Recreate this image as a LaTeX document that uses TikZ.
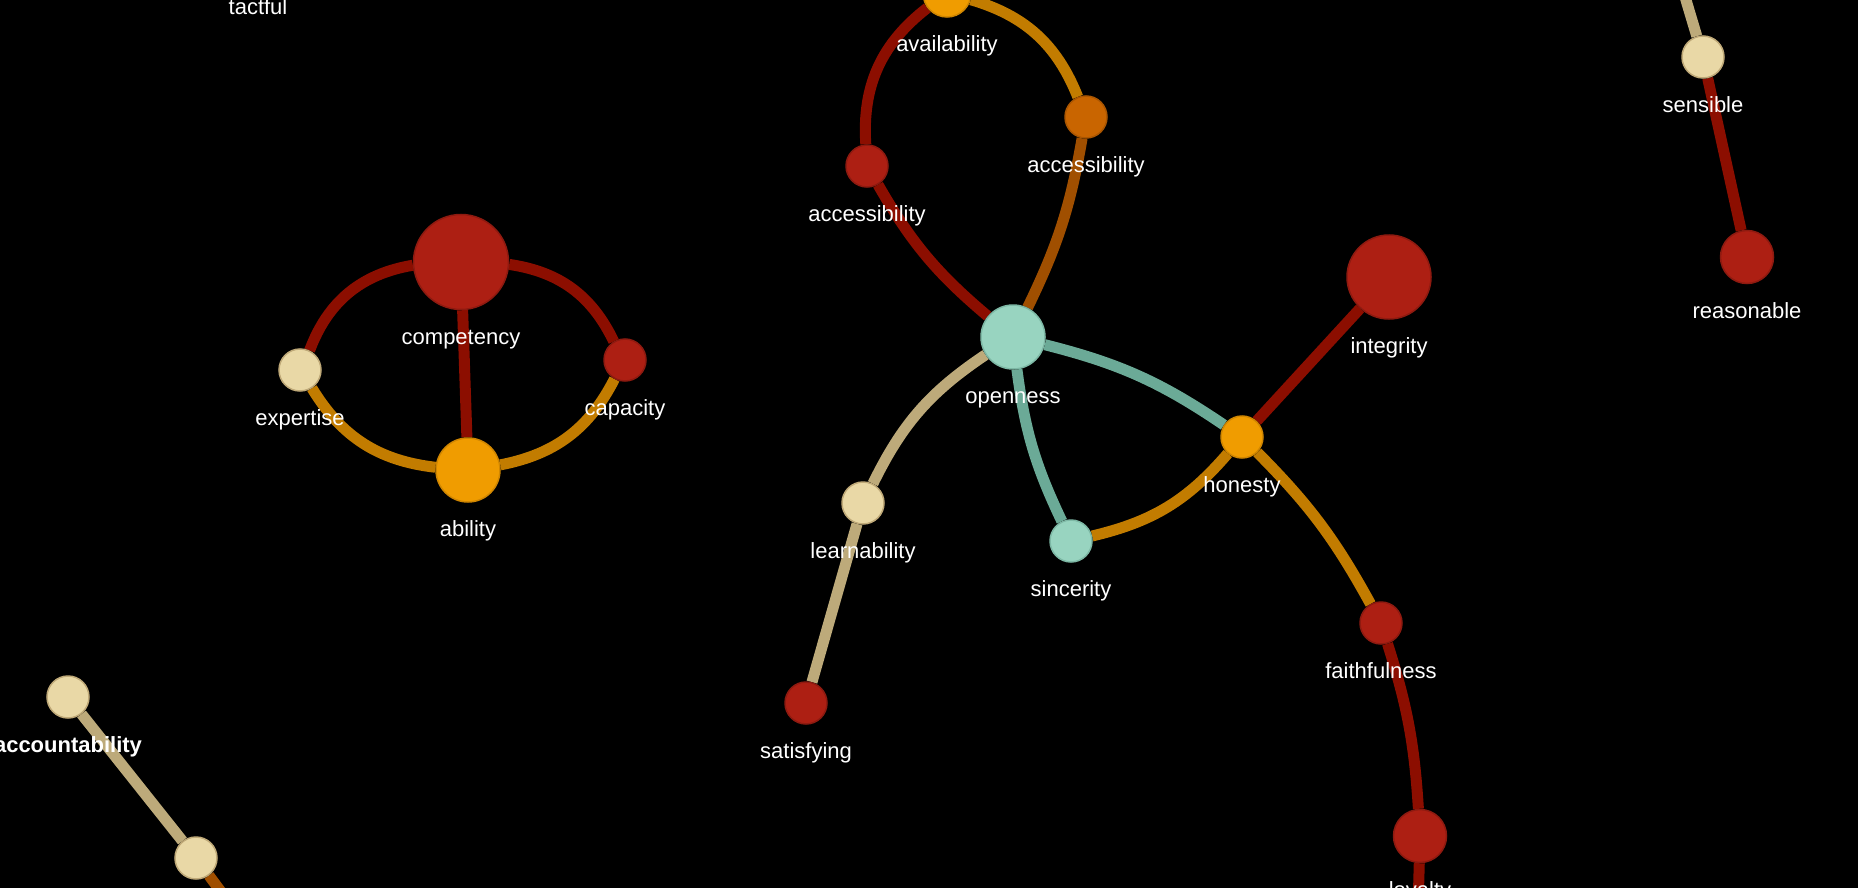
\documentclass[tikz,border=0pt]{standalone}
\usepackage{fontspec}
\setmainfont{Liberation Sans}
\usetikzlibrary{positioning}

\definecolor{nodered}{HTML}{AD1F13}
\definecolor{noderedline}{HTML}{8E1A10}
\definecolor{nodeorange}{HTML}{F09C00}
\definecolor{nodeorangeline}{HTML}{D08600}
\definecolor{nodeamber}{HTML}{C96500}
\definecolor{nodeteal}{HTML}{98D4C0}
\definecolor{nodetealline}{HTML}{7DB8A5}
\definecolor{nodecream}{HTML}{E9D8A6}
\definecolor{nodecreamline}{HTML}{BFA978}
\definecolor{linkred}{HTML}{8C0E00}
\definecolor{linkorange}{HTML}{C27C00}
\definecolor{linkbrown}{HTML}{A04F00}
\definecolor{linkteal}{HTML}{6BAA97}
\definecolor{linktan}{HTML}{BDAA7A}

\pgfdeclarelayer{back}
\pgfdeclarelayer{links}
\pgfsetlayers{back,links,main}

\begin{document}
\begin{tikzpicture}[x=1pt, y=-1pt,
  label distance=18pt,
  lbl/.style={text=white, inner sep=0pt, text height=16pt, text depth=5pt,
    font=\fontsize{22}{26}\selectfont},
  vertex/.style={circle, inner sep=0pt, line width=1.5pt},
  rednode/.style={vertex, fill=nodered, draw=noderedline, minimum size=#1},
  rednode/.default=42pt,
  orangenode/.style={vertex, fill=nodeorange, draw=nodeorangeline, minimum size=#1},
  orangenode/.default=42pt,
  ambernode/.style={vertex, fill=nodeamber, draw=nodeamber!85!black, minimum size=42pt},
  tealnode/.style={vertex, fill=nodeteal, draw=nodetealline, minimum size=#1},
  tealnode/.default=42pt,
  creamnode/.style={vertex, fill=nodecream, draw=nodecreamline, minimum size=42pt},
  link/.style={line width=11pt}]
  \useasboundingbox (0,0) rectangle (1858,888);
  \clip (0,0) rectangle (1858,888);
  \begin{pgfonlayer}{back}
    \fill[black] (0,0) rectangle (1858,888);
  \end{pgfonlayer}

  % left group
  \node[rednode=95pt, label={[lbl]below:competency}] (competency) at (461,262) {};
  \node[creamnode, label={[lbl]below:expertise}] (expertise) at (300,370) {};
  \node[rednode, label={[lbl]below:capacity}] (capacity) at (625,360) {};
  \node[orangenode=64pt, label={[lbl]below:ability}] (ability) at (468,470) {};
  \node[lbl, anchor=base] (tactful) at (258,15) {tactful};

  % centre group
  \node[orangenode=48pt, label={[lbl]below:availability}] (availability) at (947,-7) {};
  \node[rednode, label={[lbl]below:accessibility}] (accessL) at (867,166) {};
  \node[ambernode, label={[lbl]below:accessibility}] (accessR) at (1086,117) {};
  \node[tealnode=64pt, label={[lbl]below:openness}] (openness) at (1013,337) {};
  \node[rednode=84pt, label={[lbl]below:integrity}] (integrity) at (1389,277) {};
  \node[orangenode, label={[lbl]below:honesty}] (honesty) at (1242,437) {};
  \node[creamnode, label={[lbl]below:learnability}] (learnability) at (863,503) {};
  \node[tealnode, label={[lbl]below:sincerity}] (sincerity) at (1071,541) {};
  \node[rednode, label={[lbl]below:satisfying}] (satisfying) at (806,703) {};
  \node[rednode, label={[lbl]below:faithfulness}] (faithfulness) at (1381,623) {};
  \node[rednode=53pt, label={[lbl]below:loyalty}] (loyalty) at (1420,836) {};
  \coordinate (loyaltyend) at (1418,910);

  % right group
  \node[creamnode, label={[lbl]below:sensible}] (sensible) at (1703,57) {};
  \node[rednode=53pt, label={[lbl]below:reasonable}] (reasonable) at (1747,257) {};
  \coordinate (sensibleend) at (1680,-20);

  % bottom left
  \node[creamnode, label={[lbl, font=\fontsize{22}{26}\selectfont\bfseries]below:accountability}] (accountability) at (68,697) {};
  \node[creamnode] (lowcream) at (196,858) {};
  \coordinate (lowcreamend) at (236,912);

  \begin{pgfonlayer}{links}
    \draw[link, linkred] (competency) to[bend right=30] (expertise);
    \draw[link, linkred] (competency) to[bend left=28] (capacity);
    \draw[link, linkred] (competency) -- (ability);
    \draw[link, linkorange] (expertise) to[bend right=26] (ability);
    \draw[link, linkorange] (capacity) to[bend left=26] (ability);

    \draw[link, linkred] (availability) to[bend right=28] (accessL);
    \draw[link, linkorange] (availability) to[bend left=26] (accessR);
    \draw[link, linkred] (accessL) to[bend right=10] (openness);
    \draw[link, linkbrown] (accessR) to[bend left=8] (openness);
    \draw[link, linkteal] (openness) to[bend left=10] (honesty);
    \draw[link, linkteal] (openness) to[bend right=9] (sincerity);
    \draw[link, linktan] (openness) to[bend right=15] (learnability);
    \draw[link, linktan] (learnability) -- (satisfying);
    \draw[link, linkorange] (honesty) to[bend left=18] (sincerity);
    \draw[link, linkred] (honesty) -- (integrity);
    \draw[link, linkorange] (honesty) to[bend left=8] (faithfulness);
    \draw[link, linkred] (faithfulness) to[bend left=7] (loyalty);
    \draw[link, linkred] (loyalty) -- (loyaltyend);

    \draw[link, linktan] (sensible) -- (sensibleend);
    \draw[link, linkred] (sensible) -- (reasonable);

    \draw[link, linktan] (accountability) -- (lowcream);
    \draw[link, linkbrown] (lowcream) -- (lowcreamend);
  \end{pgfonlayer}
\end{tikzpicture}
\end{document}
